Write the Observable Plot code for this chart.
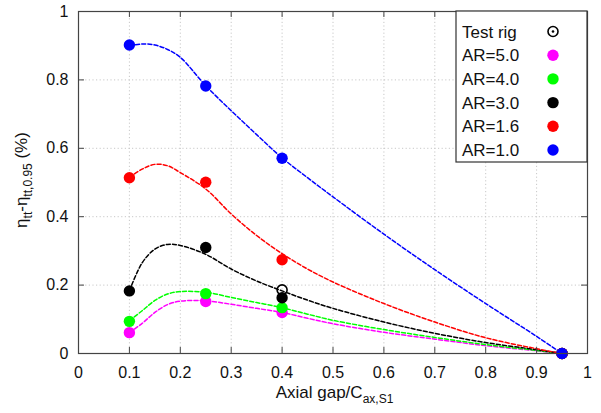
<!DOCTYPE html>
<html><head><meta charset="utf-8">
<script src="https://cdn.jsdelivr.net/npm/d3@7"></script>
<script src="https://cdn.jsdelivr.net/npm/@observablehq/plot@0.6"></script>
<style>body{margin:0;background:#fff}</style>
</head><body><div id="chart"></div>
<script>
// ---- data ----
const xTicks = [0, 0.1, 0.2, 0.3, 0.4, 0.5, 0.6, 0.7, 0.8, 0.9, 1];
const yTicks = [0, 0.2, 0.4, 0.6, 0.8, 1];
const seriesNames = ["AR=5.0", "AR=4.0", "AR=3.0", "AR=1.6", "AR=1.0"];
const seriesColors = ["#ff00ff", "#00ff00", "#000000", "#ff0000", "#0000ff"];
const pointX = [0.1, 0.25, 0.4, 0.95];
const ar50Pts = [0.061, 0.152, 0.12, 0];
const ar40Pts = [0.094, 0.175, 0.134, 0];
const ar30Pts = [0.183, 0.31, 0.163, 0];
const ar16Pts = [0.514, 0.501, 0.274, 0];
const ar10Pts = [0.902, 0.782, 0.571, 0];
const testRigX = [0.4];
const testRigY = [0.186];
const curveX = [0.1, 0.125, 0.15, 0.175, 0.2, 0.25, 0.3, 0.35, 0.4, 0.45, 0.5, 0.6, 0.7, 0.8, 0.9, 0.95];
const ar50Curve = [0.061, 0.088, 0.12, 0.143, 0.153, 0.154, 0.144, 0.132, 0.12, 0.103, 0.087, 0.062, 0.042, 0.023, 0.008, 0];
const ar40Curve = [0.096, 0.125, 0.155, 0.174, 0.181, 0.179, 0.164, 0.149, 0.134, 0.115, 0.097, 0.07, 0.047, 0.026, 0.009, 0];
const ar30Curve = [0.183, 0.265, 0.305, 0.319, 0.316, 0.29, 0.247, 0.212, 0.183, 0.156, 0.132, 0.092, 0.059, 0.032, 0.011, 0];
const ar16Curve = [0.515, 0.539, 0.553, 0.549, 0.529, 0.481, 0.408, 0.345, 0.292, 0.247, 0.209, 0.146, 0.092, 0.046, 0.014, 0];
const ar10Curve = [0.9, 0.905, 0.902, 0.889, 0.866, 0.783, 0.71, 0.64, 0.572, 0.514, 0.458, 0.349, 0.245, 0.146, 0.05, 0];

const ptsList = [ar50Pts, ar40Pts, ar30Pts, ar16Pts, ar10Pts];
const curveList = [ar50Curve, ar40Curve, ar30Curve, ar16Curve, ar10Curve];

const pts = [];
const curves = [];
seriesNames.forEach((s, i) => {
  pointX.forEach((x, j) => pts.push({s, x, y: ptsList[i][j]}));
  curveX.forEach((x, j) => curves.push({s, x, y: curveList[i][j]}));
});
const rig = testRigX.map((x, i) => ({x, y: testRigY[i]}));

const W = 601, H = 413, mT = 11, mR = 14, mB = 60, mL = 78;
const pH = H - mT - mB, pW = W - mL - mR;
const color = {domain: seriesNames, range: seriesColors};
const font = "Liberation Sans, Arial, sans-serif";

const plot = Plot.plot({
  width: W, height: H,
  marginTop: mT, marginRight: mR, marginBottom: mB, marginLeft: mL,
  style: {fontFamily: font, fontSize: "16px", background: "white", color: "#111"},
  x: {domain: [0, 1], ticks: xTicks, tickFormat: d => String(d), tickSize: 0, tickPadding: 13, label: null},
  y: {domain: [0, 1], ticks: yTicks, tickFormat: d => String(d), tickSize: 0, tickPadding: 10, label: null},
  color,
  marks: [
    Plot.ruleX(xTicks.slice(1, -1), {x: d => d, stroke: "#c8c8c8", strokeDasharray: "1.2,2.4", strokeWidth: 1}),
    Plot.ruleY(yTicks.slice(1, -1), {y: d => d, stroke: "#c8c8c8", strokeDasharray: "1.2,2.4", strokeWidth: 1}),
    Plot.line(curves, {x: "x", y: "y", z: "s", stroke: "s", curve: "catmull-rom", strokeWidth: 1.5, strokeDasharray: "4,2.2"}),
    Plot.dot(rig, {x: "x", y: "y", r: 5, stroke: "#000", strokeWidth: 1.6, fill: "none"}),
    Plot.dot(pts, {x: "x", y: "y", fill: "s", r: 5.7, stroke: "none"}),
    Plot.frame({stroke: "#444", strokeWidth: 1.2}),
    Plot.tickX(xTicks, {x: d => d, insetTop: pH - 6, stroke: "#444"}),
    Plot.tickX(xTicks, {x: d => d, insetBottom: pH - 6, stroke: "#444"}),
    Plot.tickY(yTicks, {y: d => d, insetRight: pW - 6, stroke: "#444"}),
    Plot.tickY(yTicks, {y: d => d, insetLeft: pW - 6, stroke: "#444"})
  ]
});
document.getElementById("chart").appendChild(plot);

const svg = d3.select(plot);
// x label
const xl = svg.append("text").attr("x", mL + pW / 2 + 2).attr("y", 398)
  .attr("text-anchor", "middle").attr("font-family", font).attr("font-size", 17).attr("fill", "#111");
xl.append("tspan").text("Axial gap/C");
xl.append("tspan").attr("font-size", 12).attr("dy", 5).text("ax,S1");
// y label
const yl = svg.append("text").attr("transform", "translate(27,180) rotate(-90)")
  .attr("text-anchor", "middle").attr("font-family", font).attr("font-size", 17).attr("fill", "#111");
yl.append("tspan").text("η");
yl.append("tspan").attr("font-size", 12).attr("dy", 5).text("tt");
yl.append("tspan").attr("dy", -5).text("-η");
yl.append("tspan").attr("font-size", 12).attr("dy", 5).text("tt,0.95");
yl.append("tspan").attr("dy", -5).text(" (%)");

// legend
const lg = svg.append("g");
const lx = 456, ly = mT, lw = W - mR - 456, lh = 151;
lg.append("rect").attr("x", lx).attr("y", ly).attr("width", lw).attr("height", lh)
  .attr("fill", "white").attr("stroke", "#333").attr("stroke-width", 1.2);
const legendLabels = ["Test rig"].concat(seriesNames.slice());
const legendColors = [null].concat(seriesColors.slice());
legendLabels.forEach((t, i) => {
  const cy = 31.5 + i * 23.7;
  lg.append("text").attr("x", 462).attr("y", cy + 6).attr("text-anchor", "start")
    .attr("font-family", font).attr("font-size", 17).attr("fill", "#111").text(t);
  if (i === 0) {
    lg.append("circle").attr("cx", 553).attr("cy", cy).attr("r", 5).attr("fill", "none").attr("stroke", "#000").attr("stroke-width", 1.6);
    lg.append("circle").attr("cx", 553).attr("cy", cy).attr("r", 1.3).attr("fill", "#000");
  } else {
    lg.append("circle").attr("cx", 553).attr("cy", cy).attr("r", 5.7).attr("fill", legendColors[i]);
  }
});
</script></body></html>
